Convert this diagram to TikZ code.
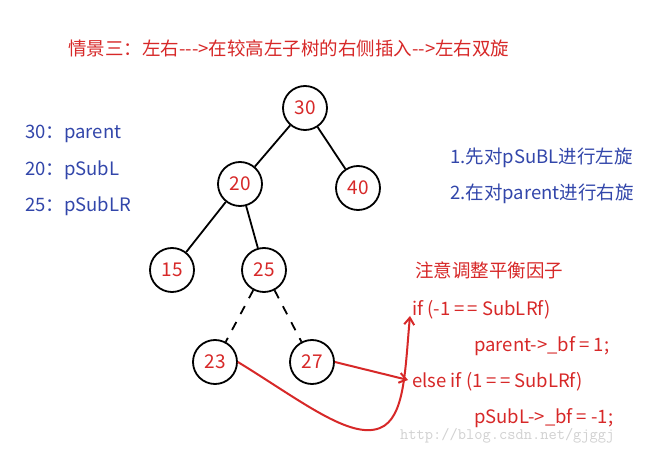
\documentclass[tikz,border=0pt]{standalone}
\usepackage{fontspec}
\setmainfont{Noto Sans CJK SC}[Ligatures=NoCommon]
\usetikzlibrary{arrows.meta}
\definecolor{tred}{RGB}{215,40,40}
\definecolor{tblue}{RGB}{50,70,170}
\newcommand{\dd}{-\kern0pt}
\tikzset{
 tn/.style={circle,draw=black,line width=1.8pt,minimum size=44pt,inner sep=0pt,text=tred,font=\fontsize{19}{20}\selectfont},
 ed/.style={line width=1.8pt},
 lb/.style={anchor=west,inner sep=0pt,font=\fontsize{18.5}{20}\selectfont},
 ar/.style={draw=tred,line width=2pt,-{Straight Barb[length=7pt,width=10pt]}}
}
\begin{document}
\begin{tikzpicture}[x=1pt,y=-1pt]
\useasboundingbox[fill=white] (0,0) rectangle (670,454);
\node[tn] (n30) at (305,108) {30};
\node[tn] (n20) at (240,184) {20};
\node[tn] (n40) at (358,188) {40};
\node[tn] (n15) at (172,270) {15};
\node[tn] (n25) at (264,270) {25};
\node[tn] (n23) at (215,362) {23};
\node[tn] (n27) at (312,362) {27};
\draw[ed] (n30)--(n20); \draw[ed] (n30)--(n40);
\draw[ed] (n20)--(n15); \draw[ed] (n20)--(n25);
\draw[ed,dash pattern=on 9pt off 9pt] (n25)--(n23);
\draw[ed,dash pattern=on 9pt off 9pt] (n25)--(n27);
\node[lb,text=tred] (title) at (68,48) {情景三：左右\dd\dd\dd>在较高左子树的右侧插入\dd\dd>左右双旋};
\node[lb,text=tblue] (l1) at (25,134) {30：parent};
\node[lb,text=tblue] (l2) at (25,170) {20：pSubL};
\node[lb,text=tblue] (l3) at (25,206) {25：pSubLR};
\node[lb,text=tblue] (r1) at (450,158) {1.先对pSuBL进行左旋};
\node[lb,text=tblue] (r2) at (450,194) {2.在对parent进行右旋};
\node[lb,text=tred] (note) at (415,270) {注意调整平衡因子};
\node[lb,text=tred] (c1) at (412,310) {if (\dd1 =\,= SubLRf)};
\node[lb,text=tred] (c2) at (474,346) {parent\dd>\_bf = 1;};
\node[lb,text=tred] (c3) at (412,382) {else if (1 =\,= SubLRf)};
\node[lb,text=tred] (c4) at (474,418) {pSubL\dd>\_bf = \dd1;};
\node[lb,text=black!18,font=\ttfamily\fontsize{16}{18}\selectfont] (wm) at (400,436) {http://blog.csdn.net/gjggj};
\coordinate (t1) at (410,316);
\coordinate (t2) at (408,380);
\draw[ar] (n23.east) .. controls (300,400) and (350,440) .. (380,428) .. controls (405,418) and (405,370) .. (t1);
\draw[ar] (n27.east) -- (t2);
\end{tikzpicture}
\end{document}
